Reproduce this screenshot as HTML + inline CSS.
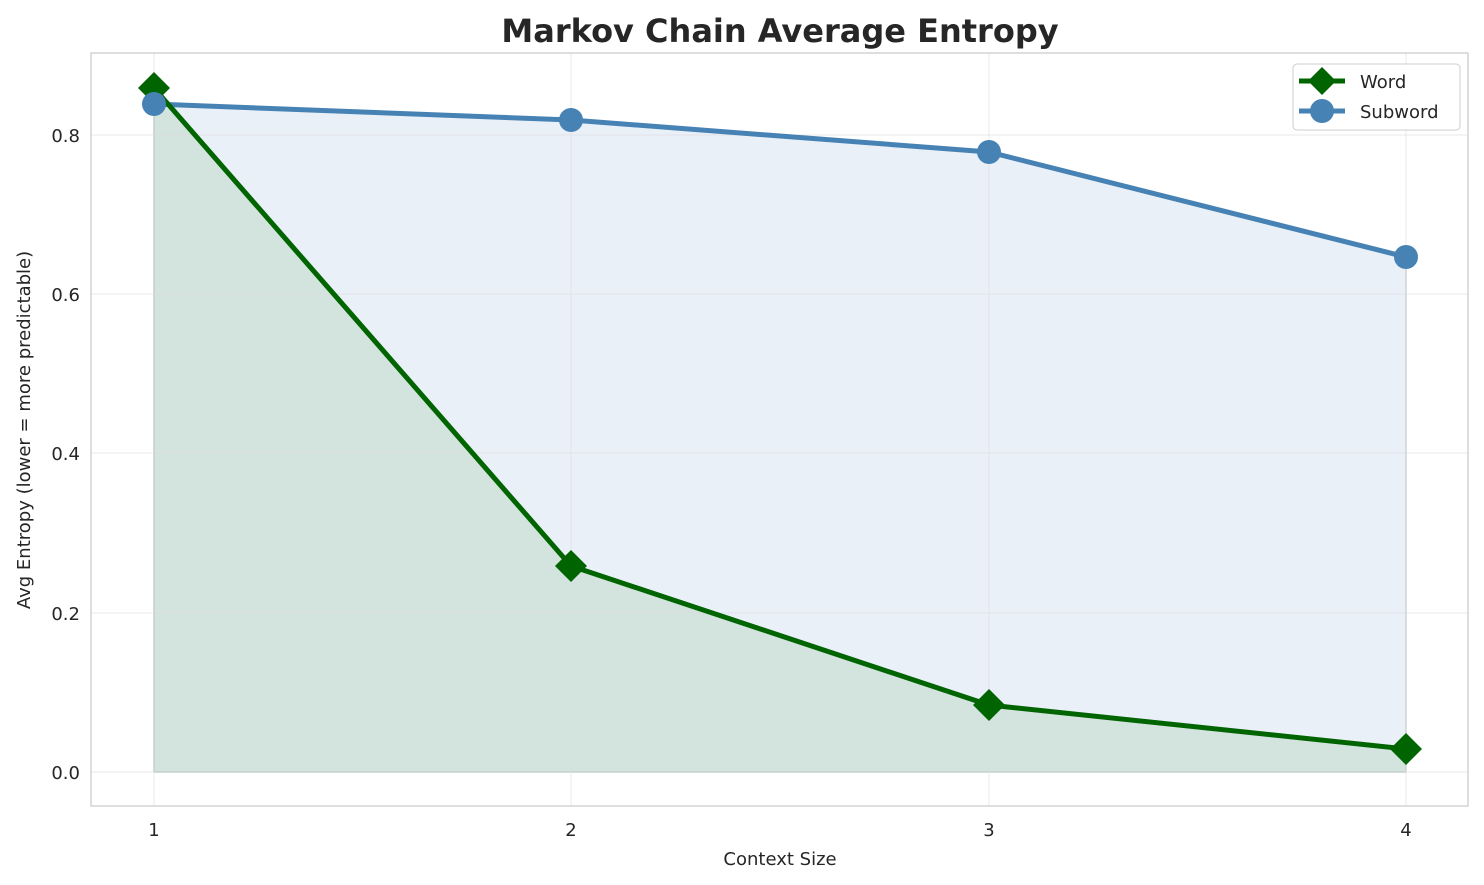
<!DOCTYPE html>
<html><head><meta charset="utf-8"><style>
body{margin:0;background:#fff;}
svg{display:block;font-family:"DejaVu Sans","Liberation Sans",sans-serif;}
</style></head><body>
<svg width="1484" height="885" xmlns="http://www.w3.org/2000/svg">
<rect x="0" y="0" width="1484" height="885" fill="#fff"/>
<polygon points="154,104 571,120 989,152 1406,257 1406,772 154,772" fill="#eaf0f8"/>
<polygon points="154,88 571,566 989,705 1406,749 1406,772 154,772" fill="#d3e3de"/>
<line x1="154" y1="88" x2="154" y2="772" stroke="#b5c7c0" stroke-width="1.5"/>
<line x1="1406" y1="257" x2="1406" y2="772" stroke="#c5ccd8" stroke-width="1.5"/>
<line x1="154" y1="772" x2="1406" y2="772" stroke="#b5c7c0" stroke-width="1.5"/>
<g stroke="#dcdcdc" stroke-opacity="0.6" stroke-width="1">
<line x1="91" y1="772" x2="1468" y2="772"/><line x1="91" y1="613" x2="1468" y2="613"/>
<line x1="91" y1="453" x2="1468" y2="453"/><line x1="91" y1="294" x2="1468" y2="294"/>
<line x1="91" y1="135" x2="1468" y2="135"/>
<line x1="154" y1="53" x2="154" y2="806"/><line x1="571" y1="53" x2="571" y2="806"/>
<line x1="989" y1="53" x2="989" y2="806"/><line x1="1406" y1="53" x2="1406" y2="806"/>
</g>
<rect x="91" y="53" width="1377" height="753" fill="none" stroke="#cccccc" stroke-width="1.3"/>
<polyline points="154,104 571,120 989,152 1406,257" fill="none" stroke="#4682b4" stroke-width="5"/>
<polyline points="154,88 571,566 989,705 1406,749" fill="none" stroke="#006400" stroke-width="5"/>
<g fill="#006400">
<polygon points="154,72 170,88 154,104 138,88"/>
<polygon points="571,550 587,566 571,582 555,566"/>
<polygon points="989,689 1005,705 989,721 973,705"/>
<polygon points="1406,733 1422,749 1406,765 1390,749"/>
</g>
<g fill="#4682b4">
<circle cx="154" cy="104" r="12"/><circle cx="571" cy="120" r="12"/>
<circle cx="989" cy="152" r="12"/><circle cx="1406" cy="257" r="12"/>
</g>
<g font-size="18" fill="#262626" text-anchor="end">
<text x="80" y="779">0.0</text><text x="80" y="620">0.2</text>
<text x="80" y="460">0.4</text><text x="80" y="301">0.6</text><text x="80" y="142">0.8</text>
</g>
<g font-size="18" fill="#262626" text-anchor="middle">
<text x="154" y="836">1</text><text x="571" y="836">2</text>
<text x="989" y="836">3</text><text x="1406" y="836">4</text>
<text x="780" y="865" font-size="18">Context Size</text>
<text x="780" y="42" font-size="32" font-weight="bold">Markov Chain Average Entropy</text>
</g>
<text transform="translate(30,430) rotate(-90)" font-size="18" fill="#262626" text-anchor="middle">Avg Entropy (lower = more predictable)</text>
<rect x="1293" y="64" width="167" height="66" rx="4" fill="#fff" fill-opacity="0.85" stroke="#cccccc"/>
<line x1="1299" y1="81" x2="1345" y2="81" stroke="#006400" stroke-width="5"/>
<polygon points="1322,67 1336,81 1322,95 1308,81" fill="#006400"/>
<line x1="1299" y1="111" x2="1345" y2="111" stroke="#4682b4" stroke-width="5"/>
<circle cx="1322" cy="111" r="12" fill="#4682b4"/>
<g font-size="18" fill="#262626">
<text x="1360" y="88">Word</text><text x="1360" y="118">Subword</text>
</g>
</svg>
</body></html>
